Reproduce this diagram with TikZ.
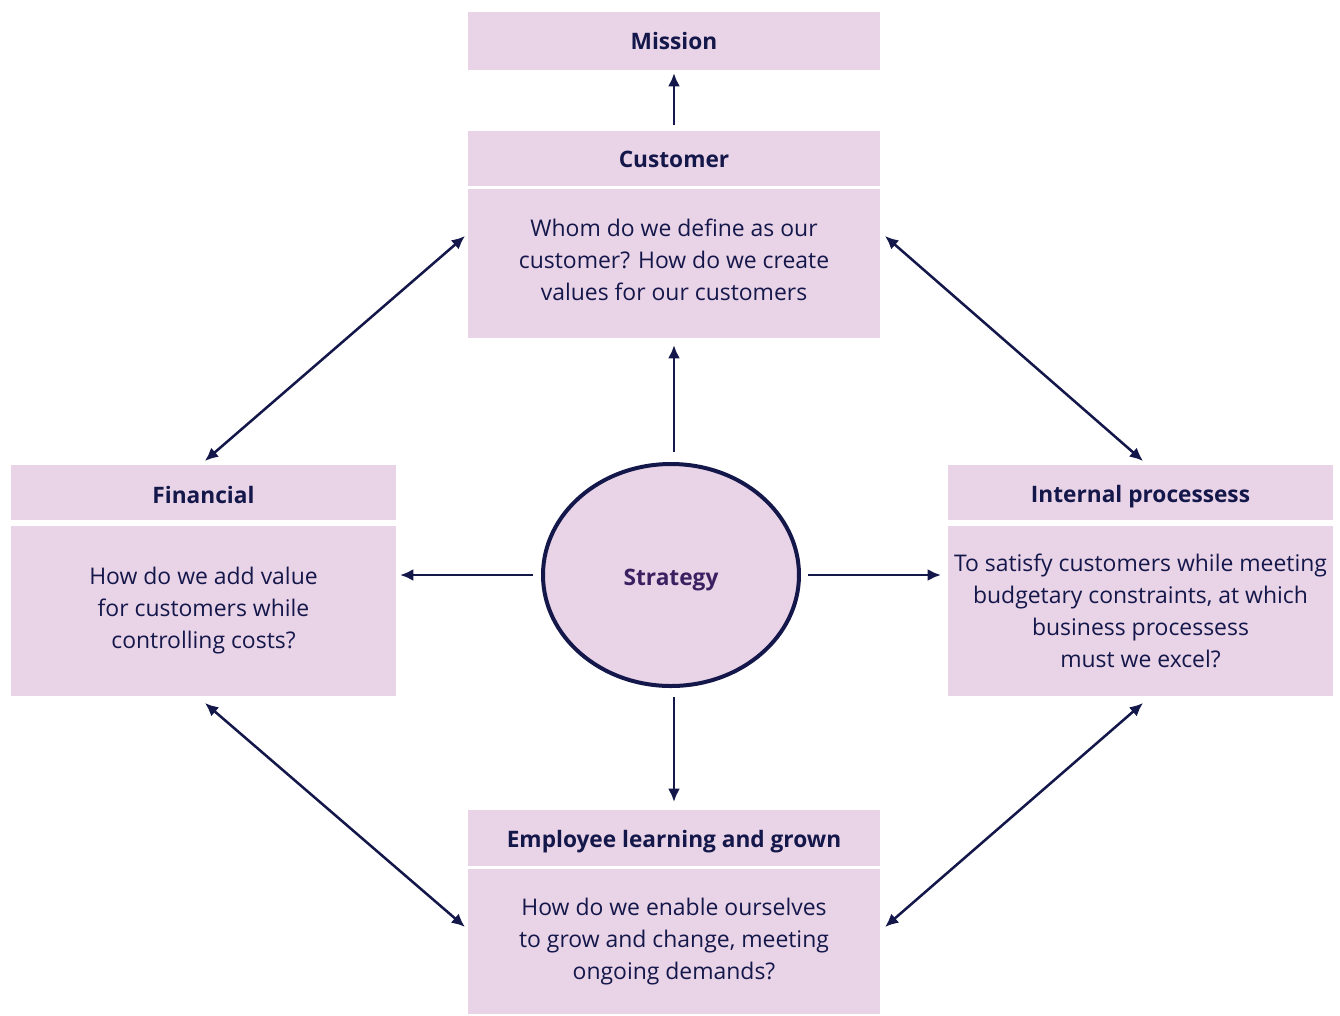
\documentclass[tikz,border=0pt]{standalone}
\usepackage{fontspec}
\setmainfont{Open Sans}
\usetikzlibrary{arrows.meta,shapes.geometric}
\definecolor{boxpink}{HTML}{E9D3E7}
\definecolor{navy}{HTML}{14174A}
\definecolor{strat}{HTML}{3A2060}
\newcommand{\lowerby}[2]{\raisebox{-#1}[\height][\depth]{#2}}
\begin{document}
\begin{tikzpicture}[x=0.75pt,y=-0.75pt,
 box/.style={fill=boxpink, draw=none, inner sep=0pt, outer sep=0pt, anchor=north west, text=navy, align=center},
 head/.style={box, font=\bfseries\fontsize{17}{20}\selectfont},
 body/.style={box, font=\fontsize{17.2}{24}\selectfont},
 arr/.style={draw=navy, line width=2.2pt, -{Latex[length=10pt,width=9pt]}},
 darr/.style={draw=navy, line width=1.9pt, {Latex[length=10pt,width=9pt]}-{Latex[length=10pt,width=9pt]}}]
\useasboundingbox (0,0) rectangle (1340,1015);
% Mission
\node[head, minimum width=309pt, minimum height=43.5pt] (mission) at (468,12) {Mission};
% Customer
\node[head, minimum width=309pt, minimum height=41.25pt] (chead) at (468,131) {\lowerby{0.75pt}{Customer}};
\node[body, minimum width=309pt, minimum height=111.75pt] (cbody) at (468,189) {\raisebox{1pt}[\height][\depth]{\begin{tabular}{@{}c@{}}Whom do we define as our\\customer? How do we create\\values for our customers\end{tabular}}};
% Financial
\node[head, minimum width=288.75pt, minimum height=41.25pt] (fhead) at (11,465) {\lowerby{1.5pt}{Financial}};
\node[body, minimum width=288.75pt, minimum height=127.5pt] (fbody) at (11,526) {How do we add value\\for customers while\\controlling costs?};
% Internal
\node[head, minimum width=288.75pt, minimum height=41.25pt] (ihead) at (948,465) {\lowerby{3pt}{Internal processess}};
\node[body, minimum width=288.75pt, minimum height=127.5pt] (ibody) at (948,526) {To satisfy customers while meeting\\budgetary constraints, at which\\business processess\\must we excel?};
% Employee
\node[head, minimum width=309pt, minimum height=42pt] (ehead) at (468,810) {\lowerby{3pt}{Employee learning and grown}};
\node[body, minimum width=309pt, minimum height=108.75pt] (ebody) at (468,869) {How do we enable ourselves\\to grow and change, meeting\\ongoing demands?};
% Strategy
\node[ellipse, draw=navy, line width=3pt, fill=boxpink, minimum width=192pt, minimum height=166.5pt, inner sep=0pt, text=strat, font=\bfseries\fontsize{17}{20}\selectfont] (strategy) at (671,575) {\lowerby{3.5pt}{Strategy}};
% straight arrows
\draw[arr, shorten <=4.5pt, shorten >=2.25pt] (chead.north) -- (mission.south);
\draw[arr, shorten <=7.5pt, shorten >=5.25pt] (cbody.south |- strategy.north) -- (cbody.south);
\draw[arr, shorten <=6.75pt, shorten >=6pt] (ehead.north |- strategy.south) -- (ehead.north);
\draw[arr, shorten <=6pt, shorten >=3pt] (strategy.west) -- (fbody.east |- strategy.west);
\draw[arr, shorten <=5.25pt, shorten >=5.25pt] (strategy.east) -- (ibody.west |- strategy.east);
% diagonal arrows
\draw[darr] ([xshift=1pt,yshift=3pt]fhead.north) -- ([xshift=-2.25pt,yshift=20.6pt]cbody.west);
\draw[darr] ([xshift=1.9pt,yshift=3pt]ihead.north) -- ([xshift=3.75pt,yshift=20.6pt]cbody.east);
\draw[darr] ([xshift=1.1pt,yshift=-5.25pt]fbody.south) -- ([xshift=-2.25pt,yshift=10.9pt]ebody.west);
\draw[darr] ([xshift=1.9pt,yshift=-5.25pt]ibody.south) -- ([xshift=3.75pt,yshift=10.9pt]ebody.east);
\end{tikzpicture}
\end{document}
